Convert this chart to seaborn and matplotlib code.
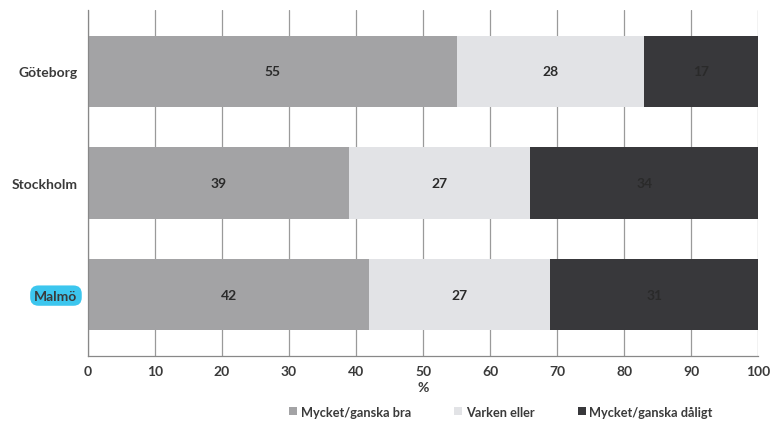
import numpy as np
import pandas as pd
import matplotlib
matplotlib.use("Agg")
import matplotlib.pyplot as plt
import seaborn as sns
from matplotlib.patches import Patch

cities = ["Göteborg", "Stockholm", "Malmö"]
good = [55, 39, 42]
neutral = [28, 27, 27]
bad = [17, 34, 31]
series_names = ["Mycket/ganska bra", "Varken eller", "Mycket/ganska dåligt"]
colors = ["#a3a3a5", "#e2e3e6", "#38383b"]
xticks = list(range(0, 101, 10))

sns.set_theme(style="white")
plt.rcParams["font.family"] = ["Lato", "DejaVu Sans"]

fig = plt.figure(figsize=(7.72, 4.27), dpi=100)
ax = fig.add_axes([0.114, 0.164, 0.868, 0.810])

df = pd.DataFrame({"city": cities, "good": good, "neutral": neutral, "bad": bad})
df["c1"] = df["good"]
df["c2"] = df["good"] + df["neutral"]
df["c3"] = df["c2"] + df["bad"]

# stacked bars: draw the cumulative totals from widest to narrowest
for col, color in zip(["c3", "c2", "c1"], colors[::-1]):
    sns.barplot(data=df, x=col, y="city", orient="h", color=color,
                width=0.64, saturation=1, ax=ax, linewidth=0, zorder=2)

# segment value labels
for i, row in df.iterrows():
    starts = [0, row["c1"], row["c2"]]
    vals = [row["good"], row["neutral"], row["bad"]]
    for s, v in zip(starts, vals):
        ax.text(s + v / 2, i, f"{v}", ha="center", va="center",
                fontsize=10, fontweight="bold", color="#2a2a2a", zorder=3)

ax.set_xlim(0, 100)
ax.set_ylim(2.55, -0.55)
ax.set_xticks(xticks)
ax.set_xticklabels([str(t) for t in xticks], fontsize=10, fontweight="bold",
                   color="#3a3a3a")
ax.xaxis.grid(True, color="#9a9a9a", linewidth=0.9, zorder=0)
ax.set_axisbelow(True)
ax.set_xlabel("%", fontsize=10, fontweight="bold", color="#3a3a3a", labelpad=3)
ax.set_ylabel("")

ax.set_yticks([0, 1, 2])
ax.set_yticklabels(cities, fontsize=10, fontweight="bold", color="#3a3a3a")
ax.set_yticks([0.5, 1.5, 2.5], minor=True)
ax.tick_params(axis="y", which="major", length=0, pad=7.5)
ax.tick_params(axis="y", which="minor", length=4, color="#888888", direction="out")
ax.tick_params(axis="x", length=5, color="#888888", direction="inout", pad=4)

for side in ["top", "right"]:
    ax.spines[side].set_visible(False)
for side in ["left", "bottom"]:
    ax.spines[side].set_color("#888888")
    ax.spines[side].set_linewidth(0.9)

# highlighted city label
for lab in ax.get_yticklabels():
    if lab.get_text() == "Malmö":
        lab.set_bbox(dict(boxstyle="round,pad=0.3,rounding_size=0.6",
                          facecolor="#3cc6ee", edgecolor="none"))

handles = [Patch(facecolor=c, edgecolor="none") for c in colors]
fig.legend(handles, series_names, loc="center", bbox_to_anchor=(0.649, 0.033),
           ncol=3, frameon=False, prop={"size": 9.2, "weight": "bold"},
           handlelength=0.6, handleheight=0.6, handletextpad=0.3,
           columnspacing=3.4, labelcolor="#3a3a3a")

fig.savefig("out.png", dpi=100)
